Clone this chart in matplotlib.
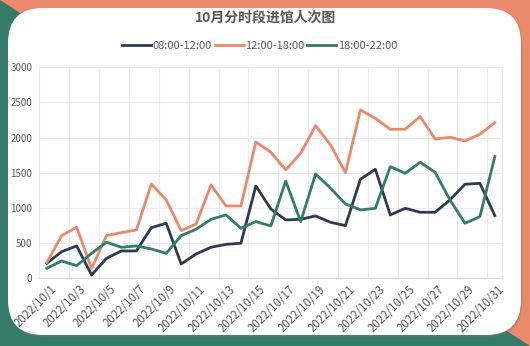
import matplotlib

matplotlib.use("Agg")
import matplotlib.pyplot as plt
import matplotlib.transforms as mtransforms
import numpy as np
from matplotlib.patches import FancyBboxPatch, Polygon

plt.rcParams["font.family"] = ["Noto Sans CJK SC", "DejaVu Sans"]

# visitor counts per day, October 2022
dates = [f"2022/10/{d}" for d in range(1, 32)]
morning = [213, 379, 460, 47, 284, 389, 389, 720, 782, 204,
           346, 441, 483, 498, 1313, 986, 830, 839, 886, 796,
           749, 1408, 1550, 901, 995, 939, 939, 1114, 1337, 1351, 891]
afternoon = [223, 607, 725, 142, 607, 650, 687, 1341, 1114, 678,
             773, 1327, 1029, 1029, 1939, 1792, 1541, 1778, 2171, 1896,
             1503, 2394, 2275, 2119, 2119, 2299, 1981, 2005, 1953, 2048, 2214]
evening = [142, 246, 180, 355, 512, 441, 460, 417, 355, 607,
           697, 839, 901, 711, 806, 744, 1384, 806, 1484, 1280,
           1057, 972, 995, 1588, 1493, 1650, 1507, 1114, 782, 877, 1730]
series_names = ["08:00-12:00", "12:00-18:00", "18:00-22:00"]

NAVY = "#2e3953"
SALMON = "#e9886a"
TEAL = "#347b68"
TEXT = "#595959"
GRID = "#ebebeb"

W, H = 530, 346
fig = plt.figure(figsize=(W / 100, H / 100), dpi=100)
fig.patch.set_facecolor(SALMON)

# two-tone backdrop split along the diagonal
fig.add_artist(Polygon([(0, 1), (0, 0), (1, 0)], closed=True, transform=fig.transFigure,
                       facecolor=TEAL, edgecolor="none", zorder=-5))

# white card with a soft shadow
for off, alpha in [(2.5, 0.15), (1.5, 0.25), (0.8, 0.35)]:
    fig.add_artist(FancyBboxPatch((8 + off * 0.6, 11 - off), 513, 327,
                                  boxstyle="round,pad=0,rounding_size=35",
                                  transform=None, facecolor="#7a7a7a", edgecolor="none",
                                  alpha=alpha, zorder=-4))
fig.add_artist(FancyBboxPatch((8, 11), 513, 327, boxstyle="round,pad=0,rounding_size=35",
                              transform=None, facecolor="white", edgecolor="none", zorder=-3))

ax = fig.add_axes([39.3 / W, 1 - 278.3 / H, 463 / W, 211 / H])
ax.set_facecolor("none")

x = np.arange(len(dates))
ax.plot(x, morning, color=NAVY, lw=2.0, label=series_names[0])
ax.plot(x, afternoon, color=SALMON, lw=2.0, label=series_names[1])
ax.plot(x, evening, color=TEAL, lw=2.0, label=series_names[2])

ax.set_xlim(-0.5, len(dates) - 0.5)
ax.set_ylim(0, 3000)
ax.set_yticks(np.arange(0, 3001, 500))
ax.set_xticks(x[::2])
ax.set_xticklabels(dates[::2], rotation=45, ha="right", va="top", rotation_mode="anchor")
ax.set_xticks(np.arange(-0.5, len(dates), 2), minor=True)
ax.tick_params(axis="both", which="both", length=0, colors=TEXT)
ax.tick_params(axis="y", labelsize=7, pad=5)
ax.tick_params(axis="x", labelsize=8.3, pad=3)

# nudge the slanted date labels a little to the right
shift = mtransforms.ScaledTranslation(3 / 100, 0, fig.dpi_scale_trans)
for lbl in ax.get_xticklabels():
    lbl.set_transform(lbl.get_transform() + shift)

ax.grid(True, axis="y", which="major", color=GRID, lw=0.8)
ax.grid(True, axis="x", which="minor", color=GRID, lw=0.8)
ax.set_axisbelow(True)
for side in ["top", "left"]:
    ax.spines[side].set_visible(False)
ax.spines["right"].set_color(GRID)
ax.spines["right"].set_linewidth(0.8)
ax.spines["bottom"].set_color("#d4d4d4")
ax.spines["bottom"].set_linewidth(0.8)

ax.legend(loc="center", bbox_to_anchor=(0.49, 1 - 46 / H), bbox_transform=fig.transFigure,
          ncol=3, frameon=False, fontsize=8, labelcolor=TEXT, handlelength=2.6,
          handletextpad=0.15, columnspacing=0.25)

fig.text(0.5, 1 - 18 / H, "10月分时段进馆人次图", ha="center", va="center",
         fontsize=10, fontweight="bold", color=TEXT)

fig.savefig("out.png", dpi=100, facecolor=fig.get_facecolor())
